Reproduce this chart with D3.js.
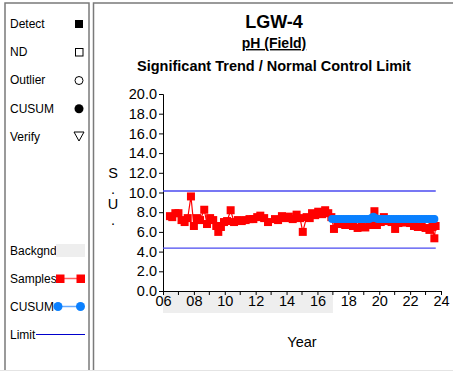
<!DOCTYPE html>
<html><head><meta charset="utf-8">
<script src="https://cdn.jsdelivr.net/npm/d3@7"></script>
<style>
body{margin:0;padding:0;background:#fff;}
svg{display:block;font-family:"Liberation Sans",Arial,sans-serif;}
</style></head>
<body><svg id="c" width="453" height="371"></svg>
<script>
const titleMain = "LGW-4";
const titleParam = "pH (Field)";
const titleSub = "Significant Trend / Normal Control Limit";
const yLabelChars = ["S", ".", "U", "."];
const xLabel = "Year";
const yTicks = [0, 2, 4, 6, 8, 10, 12, 14, 16, 18, 20];
const xTickYears = [2006, 2008, 2010, 2012, 2014, 2016, 2018, 2020, 2022, 2024];
const xMinorYears = [2007, 2009, 2011, 2013, 2015, 2017, 2019, 2021, 2023];
const legendTop = ["Detect", "ND", "Outlier", "CUSUM", "Verify"];
const legendBottom = ["Backgnd", "Samples", "CUSUM", "Limit"];
const backgroundPeriod = [2006, 2017.0];
const upperLimit = 10.15;
const lowerLimit = 4.35;
const limitPeriod = [2006, 2023.66];

const sampleYears = [2006.45,2006.6,2006.8,2007.0,2007.2,2007.4,2007.6,2007.81,2008.0,2008.2,2008.4,2008.67,2008.85,2009.05,2009.25,2009.45,2009.58,2009.75,2009.95,2010.15,2010.38,2010.6,2010.85,2011.1,2011.35,2011.6,2011.85,2012.1,2012.3,2012.55,2012.8,2013.25,2013.45,2013.7,2013.95,2014.15,2014.4,2014.65,2014.87,2015.05,2015.3,2015.5,2015.65,2015.85,2016.05,2016.3,2016.5,2016.7,2016.9,2017.07,2017.3,2017.55,2017.8,2018.05,2018.3,2018.6,2018.85,2019.1,2019.35,2019.52,2019.69,2019.85,2020.1,2020.3,2020.55,2020.8,2021.03,2021.25,2021.5,2021.75,2022.0,2022.25,2022.5,2022.75,2023.0,2023.25,2023.45,2023.57,2023.65];
const sampleValues = [7.6,7.5,7.9,7.9,7.2,7.0,7.4,9.6,6.6,7.4,7.2,8.25,6.8,7.4,7.2,6.6,6.0,6.5,7.0,7.1,8.2,7.0,7.2,7.1,7.2,7.3,7.3,7.5,7.65,7.4,7.0,7.3,7.2,7.6,7.4,7.55,7.3,7.75,7.4,6.0,7.5,7.4,7.9,7.7,8.05,7.8,8.2,7.9,7.5,6.3,6.9,6.8,6.7,6.75,6.6,6.4,6.5,6.45,6.7,6.8,8.1,6.7,7.0,7.5,7.1,7.0,6.3,6.9,7.0,6.95,6.9,6.6,6.5,6.5,6.4,6.2,6.5,5.35,6.6];

const cusumYears = [2016.95,2017.1,2017.25,2017.4,2017.55,2017.7,2017.85,2018.0,2018.15,2018.3,2018.45,2018.6,2018.75,2018.9,2019.05,2019.2,2019.35,2019.5,2019.62,2019.75,2019.9,2020.05,2020.2,2020.35,2020.5,2020.65,2020.8,2020.95,2021.1,2021.25,2021.4,2021.55,2021.7,2021.85,2022.0,2022.15,2022.3,2022.45,2022.6,2022.75,2022.9,2023.05,2023.2,2023.35,2023.5,2023.57];
const cusumValues = [7.3,7.3,7.3,7.3,7.3,7.3,7.3,7.3,7.3,7.3,7.3,7.3,7.3,7.3,7.3,7.3,7.3,7.4,7.55,7.4,7.3,7.3,7.3,7.3,7.3,7.3,7.3,7.3,7.3,7.3,7.3,7.3,7.3,7.3,7.3,7.3,7.3,7.3,7.3,7.3,7.3,7.3,7.3,7.3,7.3,7.3];

const svg = d3.select("#c");
const RED = "#ff0000", BLUE = "#0a80ff", LIMIT = "#4a4af0";

// panels
svg.append("rect").attr("x",5).attr("y",3).attr("width",84).attr("height",370)
  .attr("fill","#fff").attr("stroke","#7a7a7a").attr("stroke-width",1.5);
svg.append("rect").attr("x",93.5).attr("y",3).attr("width",370).attr("height",370)
  .attr("fill","#fff").attr("stroke","#7a7a7a").attr("stroke-width",1.5);
svg.append("line").attr("x1",0).attr("x2",453).attr("y1",370.5).attr("y2",370.5)
  .attr("stroke","#e4e4e4").attr("stroke-width",1);

const x = d3.scaleLinear().domain([2006, 2024]).range([163, 441]);
const y = d3.scaleLinear().domain([0, 20]).range([291, 94]);

// titles
const cx = 274;
svg.append("text").attr("x",cx).attr("y",28).attr("text-anchor","middle")
  .attr("font-size",18).attr("font-weight","bold").text(titleMain);
svg.append("text").attr("x",cx).attr("y",48).attr("text-anchor","middle")
  .attr("font-size",14).attr("font-weight","bold").attr("text-decoration","underline").text(titleParam);
svg.append("text").attr("x",cx).attr("y",71).attr("text-anchor","middle")
  .attr("font-size",14.5).attr("font-weight","bold").text(titleSub);

// background band under axis
svg.append("rect").attr("x",x(backgroundPeriod[0])).attr("y",291)
  .attr("width",x(backgroundPeriod[1])-x(backgroundPeriod[0])).attr("height",22)
  .attr("fill","#eeeeee");

// y axis
const yAxis = d3.axisLeft(y).tickValues(yTicks).tickFormat(d3.format(".1f")).tickSizeOuter(0).tickSize(4).tickPadding(2);
const gy = svg.append("g").attr("transform","translate(163,0)").call(yAxis);
gy.selectAll("text").attr("font-size",14.5).attr("fill","#000").attr("font-family","Liberation Sans, Arial, sans-serif");
gy.selectAll("line,path").attr("stroke","#000");

// x axis
const xAxis = d3.axisBottom(x).tickValues(xTickYears).tickFormat(d => String(d).slice(2)).tickSizeOuter(0).tickSize(4).tickPadding(1);
const gx = svg.append("g").attr("transform","translate(0,291)").call(xAxis);
gx.selectAll("text").attr("font-size",14.5).attr("fill","#000").attr("font-family","Liberation Sans, Arial, sans-serif");
gx.selectAll("line,path").attr("stroke","#000");
gx.selectAll(".minor").data(xMinorYears).enter().append("line")
  .attr("x1",d=>x(d)).attr("x2",d=>x(d)).attr("y1",0).attr("y2",4).attr("stroke","#000");

// axis labels
yLabelChars.forEach((c,i)=>{
  svg.append("text").attr("x",113).attr("y",178+i*15.5).attr("text-anchor","middle")
    .attr("font-size",14.5).text(c);
});
svg.append("text").attr("x",302).attr("y",347).attr("text-anchor","middle").attr("font-size",14.5).text(xLabel);

// limits
[upperLimit, lowerLimit].forEach(v=>{
  svg.append("line").attr("x1",x(limitPeriod[0])).attr("x2",x(limitPeriod[1]))
    .attr("y1",y(v)).attr("y2",y(v)).attr("stroke",LIMIT).attr("stroke-width",1.3);
});

// samples
const samples = sampleYears.map((d,i)=>({t:d,v:sampleValues[i]}));
svg.append("path").datum(samples).attr("fill","none").attr("stroke",RED).attr("stroke-width",1.2)
  .attr("d", d3.line().x(d=>x(d.t)).y(d=>y(d.v)));
svg.selectAll(".s").data(samples).enter().append("rect")
  .attr("x",d=>x(d.t)-4).attr("y",d=>y(d.v)-4).attr("width",8).attr("height",8).attr("fill",RED);

// cusum
const cus = cusumYears.map((d,i)=>({t:d,v:cusumValues[i]}));
svg.append("path").datum(cus).attr("fill","none").attr("stroke",BLUE).attr("stroke-width",2)
  .attr("d", d3.line().x(d=>x(d.t)).y(d=>y(d.v)));
svg.selectAll(".c").data(cus).enter().append("circle")
  .attr("cx",d=>x(d.t)).attr("cy",d=>y(d.v)).attr("r",4).attr("fill",BLUE);

// legend top
const lg = svg.append("g").attr("font-size",12);
legendTop.forEach((t,i)=>{
  lg.append("text").attr("x",10).attr("y",28+i*28.2).text(t);
});
const sx = 79;
lg.append("rect").attr("x",sx-4).attr("y",20).attr("width",8).attr("height",8).attr("fill","#000");
lg.append("rect").attr("x",sx-3.5).attr("y",48.5).attr("width",7.5).attr("height",7.5).attr("fill","none").attr("stroke","#000").attr("stroke-width",1);
lg.append("circle").attr("cx",sx).attr("cy",80.5).attr("r",4).attr("fill","none").attr("stroke","#000").attr("stroke-width",1);
lg.append("circle").attr("cx",sx).attr("cy",108.7).attr("r",4.5).attr("fill","#000");
lg.append("path").attr("d",`M${sx-5},${132} L${sx+5},${132} L${sx},${141} Z`).attr("fill","none").attr("stroke","#000").attr("stroke-width",1);

// legend bottom
legendBottom.forEach((t,i)=>{
  lg.append("text").attr("x",10).attr("y",254.5+i*28).text(t);
});
lg.append("rect").attr("x",56).attr("y",244).attr("width",29).attr("height",13).attr("fill","#eeeeee");
lg.append("line").attr("x1",60).attr("x2",81).attr("y1",278.5).attr("y2",278.5).attr("stroke","#ff6060").attr("stroke-width",1.5);
lg.append("rect").attr("x",56).attr("y",274.5).attr("width",8.5).attr("height",8.5).attr("fill",RED);
lg.append("rect").attr("x",76.5).attr("y",274.5).attr("width",8.5).attr("height",8.5).attr("fill",RED);
lg.append("line").attr("x1",58).attr("x2",80.5).attr("y1",306.5).attr("y2",306.5).attr("stroke","#66aaff").attr("stroke-width",1.5);
lg.append("circle").attr("cx",58).attr("cy",306.5).attr("r",4.5).attr("fill",BLUE);
lg.append("circle").attr("cx",80.5).attr("cy",306.5).attr("r",4.5).attr("fill",BLUE);
lg.append("line").attr("x1",36).attr("x2",85).attr("y1",334.5).attr("y2",334.5).attr("stroke","#0000cc").attr("stroke-width",1);
</script></body></html>
